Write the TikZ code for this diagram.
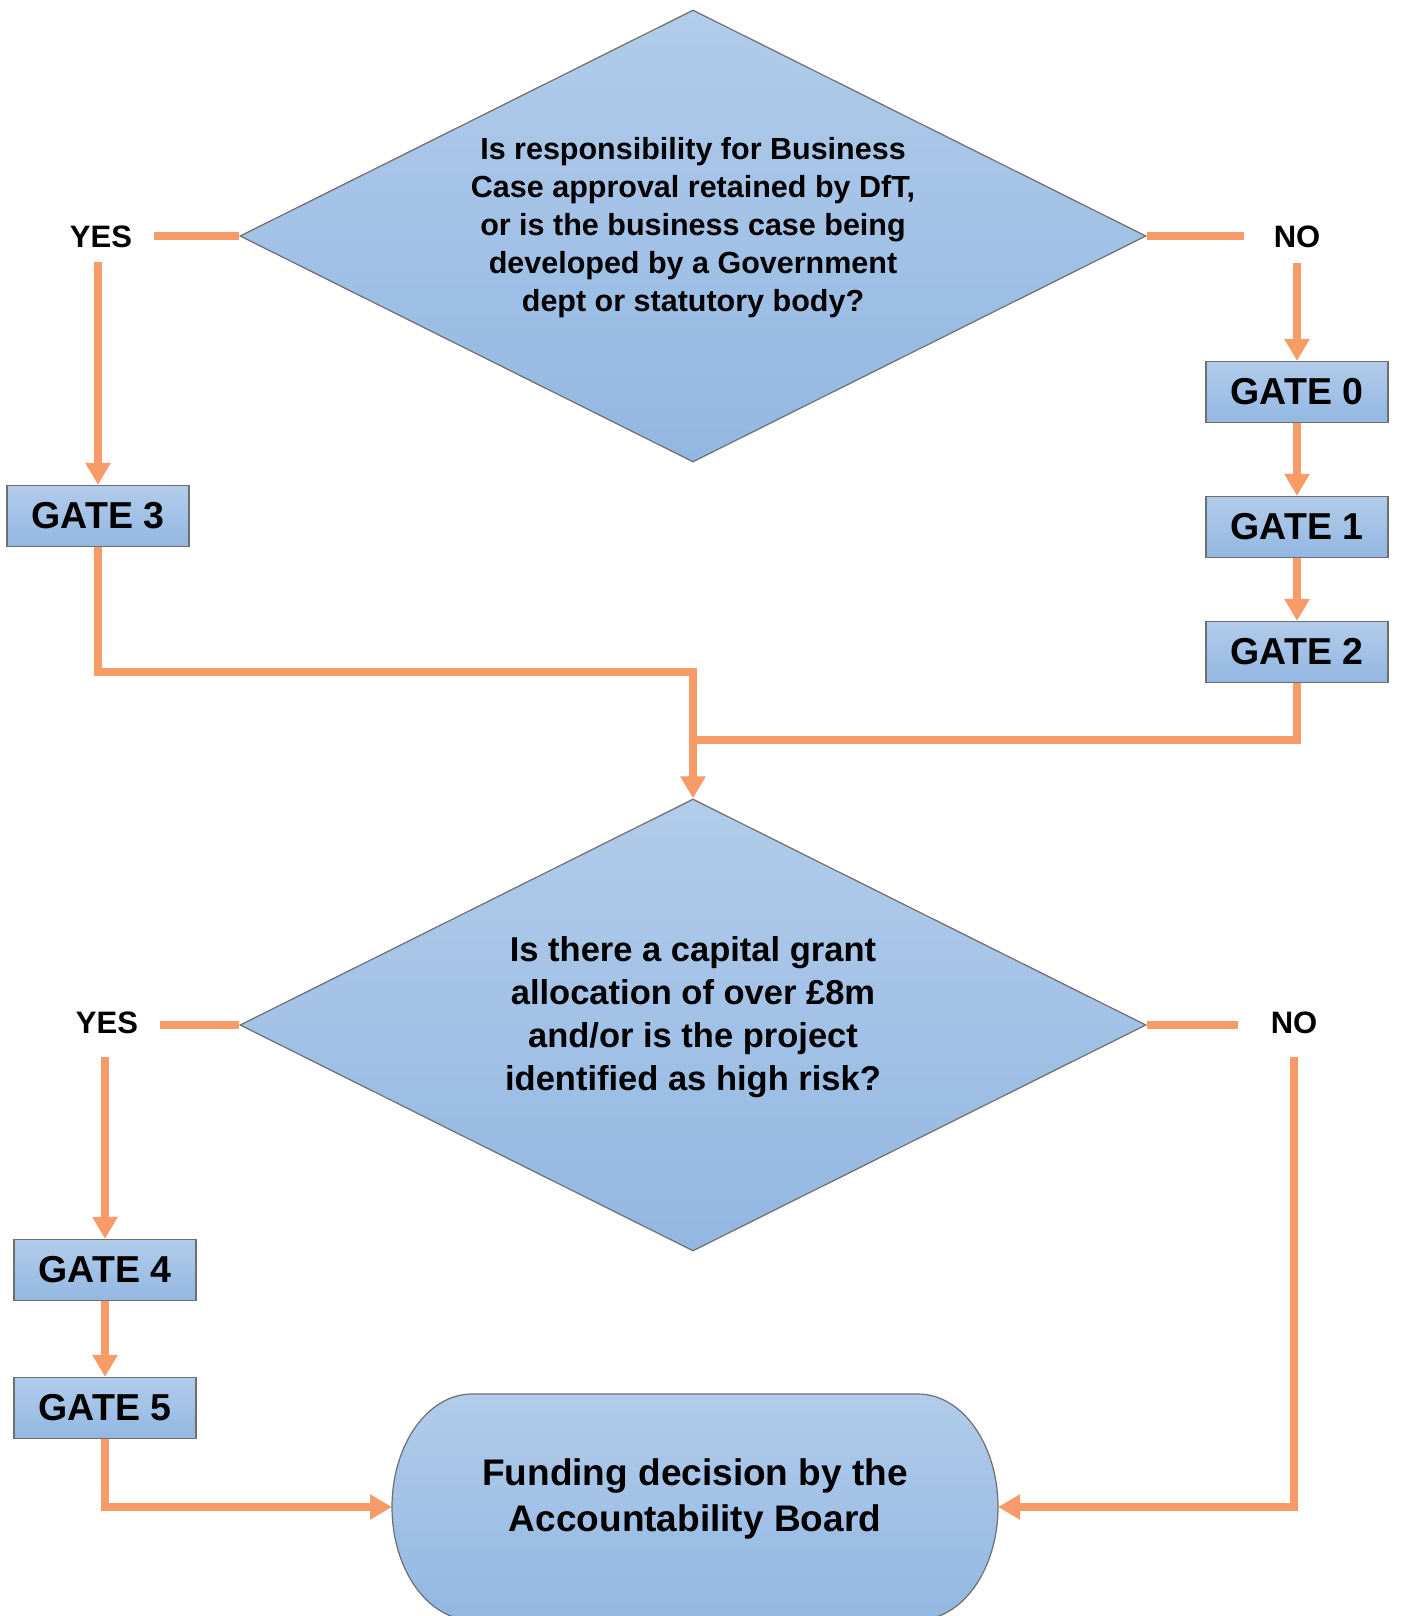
\documentclass[tikz,border=0pt]{standalone}
\usepackage{fontspec}
\setmainfont{Liberation Sans}
\usetikzlibrary{shapes.geometric,arrows.meta}
\definecolor{orng}{RGB}{247,155,104}
\definecolor{ftop}{RGB}{178,204,234}
\definecolor{fbot}{RGB}{146,183,226}
\definecolor{bord}{RGB}{110,110,110}
\begin{document}
\begin{tikzpicture}[x=1pt,y=-1pt,
  conn/.style={draw=orng,line width=8pt},
  arr/.style={conn,-{Triangle[width=24pt,length=22pt]}},
  shade/.style={draw=bord,line width=1.2pt,top color=ftop,bottom color=fbot},
  dec/.style={diamond,shade,minimum width=906pt,minimum height=452pt,inner sep=0pt},
  gate/.style={rectangle,shade,minimum width=182pt,minimum height=61pt,inner sep=0pt,font=\fontsize{37.5}{40}\selectfont\bfseries},
  lbl/.style={inner sep=0pt,font=\fontsize{31}{36}\selectfont\bfseries},
  qtxt/.style={align=center,inner sep=0pt}
]
\useasboundingbox (0,0) rectangle (1400,1616);

% terminal outline
\path[shade] (472,1394) -- (918,1394)
  arc[start angle=-90,end angle=90,x radius=80,y radius=113]
  -- (472,1620)
  arc[start angle=90,end angle=270,x radius=80,y radius=113] -- cycle;
\node[minimum width=606pt,minimum height=226pt,inner sep=0pt,outer sep=0pt] (term) at (695,1507) {};
\node[qtxt,font=\fontsize{37}{46}\selectfont\bfseries] (termt) at (695,1499) {Funding decision by the\\Accountability Board};

% decisions
\node[dec] (d1) at (693,236) {};
\node[qtxt,font=\fontsize{30.5}{38}\selectfont\bfseries] (d1t) at (693,228) {Is responsibility for Business\\Case approval retained by DfT,\\or is the business case being\\developed by a Government\\dept or statutory body?};
\node[dec] (d2) at (693,1025) {};
\node[qtxt,font=\fontsize{34.5}{43}\selectfont\bfseries] (d2t) at (693,1017) {Is there a capital grant\\allocation of over £8m\\and/or is the project\\identified as high risk?};

% gates
\node[gate] (g3) at (98,516) {GATE 3};
\node[gate] (g0) at (1297,392) {GATE 0};
\node[gate] (g1) at (1297,527) {GATE 1};
\node[gate] (g2) at (1297,652) {GATE 2};
\node[gate] (g4) at (105,1270) {GATE 4};
\node[gate] (g5) at (105,1408) {GATE 5};

% labels
\node[lbl] (yes1) at (101,237) {YES};
\node[lbl] (no1) at (1297,237) {NO};
\node[lbl] (yes2) at (107,1023) {YES};
\node[lbl] (no2) at (1294,1023) {NO};

\coordinate (j1) at (693,672);
\coordinate (j2) at (693,740);

% connectors
\draw[conn,shorten >=22pt] (d1.west) -- (d1.west -| yes1.east);
\draw[arr,shorten <=14pt] (g3.north |- yes1.south) -- (g3.north);
\draw[conn,shorten >=30pt] (d1.east) -- (d1.east -| no1.west);
\draw[arr,shorten <=15pt] (no1.south) -- (g0.north);
\draw[arr] (g0.south) -- (g1.north);
\draw[arr] (g1.south) -- (g2.north);
\draw[arr] (g3.south) |- (j1) -- (d2.north);
\draw[conn] (g2.south) |- (j2);

\draw[conn,shorten >=22pt] (d2.west) -- (d2.west -| yes2.east);
\draw[arr,shorten <=23pt] (g4.north |- yes2.south) -- (g4.north);
\draw[arr] (g4.south) -- (g5.north);
\draw[arr] (g5.south) |- (term.west);
\draw[conn,shorten >=33pt] (d2.east) -- (d2.east -| no2.west);
\draw[arr,shorten <=23pt] (no2.south) |- (term.east);
\end{tikzpicture}
\end{document}
